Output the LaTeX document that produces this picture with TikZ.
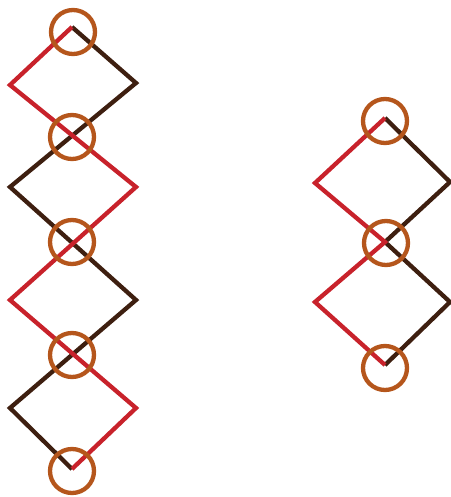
\documentclass[tikz,border=0pt]{standalone}
\usetikzlibrary{positioning}
\definecolor{chainred}{HTML}{C8222B}
\definecolor{chaindark}{HTML}{3E1F10}
\definecolor{ringbrown}{HTML}{B5561C}

\begin{document}
\begin{tikzpicture}[x=1bp,y=-1bp,
  redl/.style={draw=chainred,line width=4.3bp,line join=miter},
  darkl/.style={draw=chaindark,line width=4.3bp,line join=miter},
  ring/.style={circle,draw=ringbrown,line width=4.3bp,minimum size=44bp,inner sep=0pt}]
\useasboundingbox (0,0) rectangle (451,497);
% left chain
\coordinate (l0) at (72,27);
\coordinate (la1) at (10,85);   \coordinate (lb1) at (136,83);
\coordinate (la2) at (136,187); \coordinate (lb2) at (10,187);
\coordinate (la3) at (10,300);  \coordinate (lb3) at (136,300);
\coordinate (la4) at (136,408); \coordinate (lb4) at (10,408);
\coordinate (l5) at (72,469);
\draw[darkl] (l0)--(lb1)--(lb2)--(lb3)--(lb4)--(l5);
\draw[redl] (l0)--(la1)--(la2)--(la3)--(la4)--(l5);
\node[ring] (c1) at (73,32) {};
\node[ring] (c2) at (72,137) {};
\node[ring] (c3) at (72,242) {};
\node[ring] (c4) at (72,355) {};
\node[ring] (c5) at (72,471) {};
% right chain
\coordinate (r0) at (385,118);
\coordinate (ra1) at (315,183); \coordinate (rb1) at (450,182);
\coordinate (rm) at (385,242);
\coordinate (ra2) at (315,302); \coordinate (rb2) at (450,302);
\coordinate (r3) at (385,365);
\draw[darkl] (r0)--(rb1)--(rm)--(rb2)--(r3);
\draw[redl] (r0)--(ra1)--(rm)--(ra2)--(r3);
\node[ring] (d1) at (385,121) {};
\node[ring] (d2) at (386,243) {};
\node[ring] (d3) at (385,368) {};
\end{tikzpicture}
\end{document}
